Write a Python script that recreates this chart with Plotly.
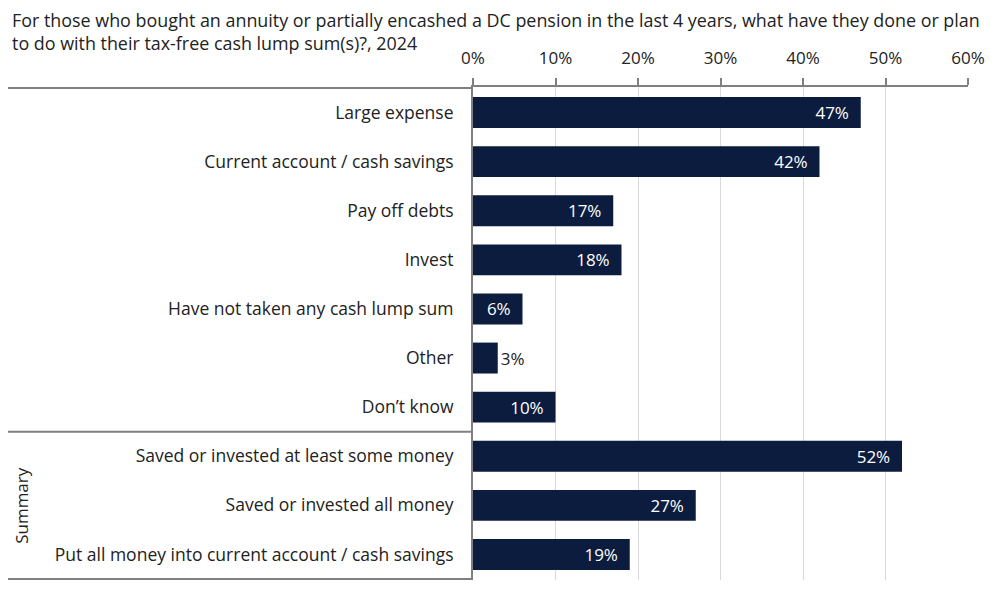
import plotly.graph_objects as go

categories = [
    "Large expense",
    "Current account / cash savings",
    "Pay off debts",
    "Invest",
    "Have not taken any cash lump sum",
    "Other",
    "Don\u2019t know",
    "Saved or invested at least some money",
    "Saved or invested all money",
    "Put all money into current account / cash savings",
]
values = [47, 42, 17, 18, 6, 3, 10, 52, 27, 19]
tick_vals = [0, 10, 20, 30, 40, 50, 60]
tick_text = [f"{t}%" for t in tick_vals]

NAVY = "#0c1c3e"
GREY = "#808080"
TEXT = "#222222"
FONT = "Open Sans"

# labels that do not fit go outside the bar
positions = ["inside" if v >= 5 else "outside" for v in values]
label_colors = ["white" if v >= 5 else TEXT for v in values]
labels = [f"{v}%\u00a0\u00a0" if v >= 5 else f"{v}%" for v in values]

# page body adds an 8px offset, margins compensate for it
ML, MR, MT, MB = 465, 39, 79, 31
plot_w = 999 - ML - MR

fig = go.Figure()
fig.add_trace(go.Bar(
    x=values,
    y=categories,
    orientation="h",
    marker=dict(color=NAVY, line=dict(width=0)),
    width=0.63,
    text=labels,
    textposition=positions,
    insidetextanchor="end",
    textfont=dict(family=FONT, size=17, color=label_colors),
    constraintext="none",
    cliponaxis=False,
    hoverinfo="skip",
))

fig.update_layout(
    width=999,
    height=603,
    margin=dict(l=ML, r=MR, t=MT, b=MB, autoexpand=False),
    paper_bgcolor="white",
    plot_bgcolor="white",
    font=dict(family=FONT, size=17, color=TEXT),
    showlegend=False,
    xaxis=dict(
        side="top",
        range=[0, 60],
        tickvals=tick_vals,
        ticktext=tick_text,
        showgrid=True,
        gridcolor="#d9d9d9",
        gridwidth=1,
        zeroline=False,
        showline=True,
        linecolor=GREY,
        linewidth=2,
        ticks="outside",
        ticklen=7,
        tickwidth=2,
        tickcolor=GREY,
        ticklabelstandoff=7,
        automargin=False,
        tickfont=dict(family=FONT, size=17, color=TEXT),
        fixedrange=True,
    ),
    yaxis=dict(
        autorange="reversed",
        showgrid=False,
        zeroline=False,
        showline=True,
        linecolor=GREY,
        linewidth=2,
        ticks="",
        ticklabelstandoff=14,
        automargin=False,
        tickfont=dict(family=FONT, size=17.5, color=TEXT),
        fixedrange=True,
    ),
)

left_edge = -ML / plot_w
for yv in [-0.5, 6.5, 9.5]:
    fig.add_shape(type="line", xref="paper", yref="y",
                  x0=left_edge, x1=0, y0=yv, y1=yv,
                  line=dict(color=GREY, width=2))

fig.add_annotation(
    xref="paper", yref="paper", x=left_edge + 2 / plot_w, y=1,
    yshift=81, xanchor="left", yanchor="top", align="left",
    showarrow=False,
    text="For those who bought an annuity or partially encashed a DC pension in the last 4 years, what have they done or plan<br>to do with their tax-free cash lump sum(s)?, 2024",
    font=dict(family=FONT, size=17.9, color=TEXT),
)

fig.add_annotation(
    xref="paper", yref="y", x=left_edge + 1 / plot_w, y=8,
    textangle=-90, showarrow=False, xanchor="left", yanchor="middle",
    borderpad=0,
    text="Summary",
    font=dict(family=FONT, size=17, color=TEXT),
)

fig.write_html("out.html")
